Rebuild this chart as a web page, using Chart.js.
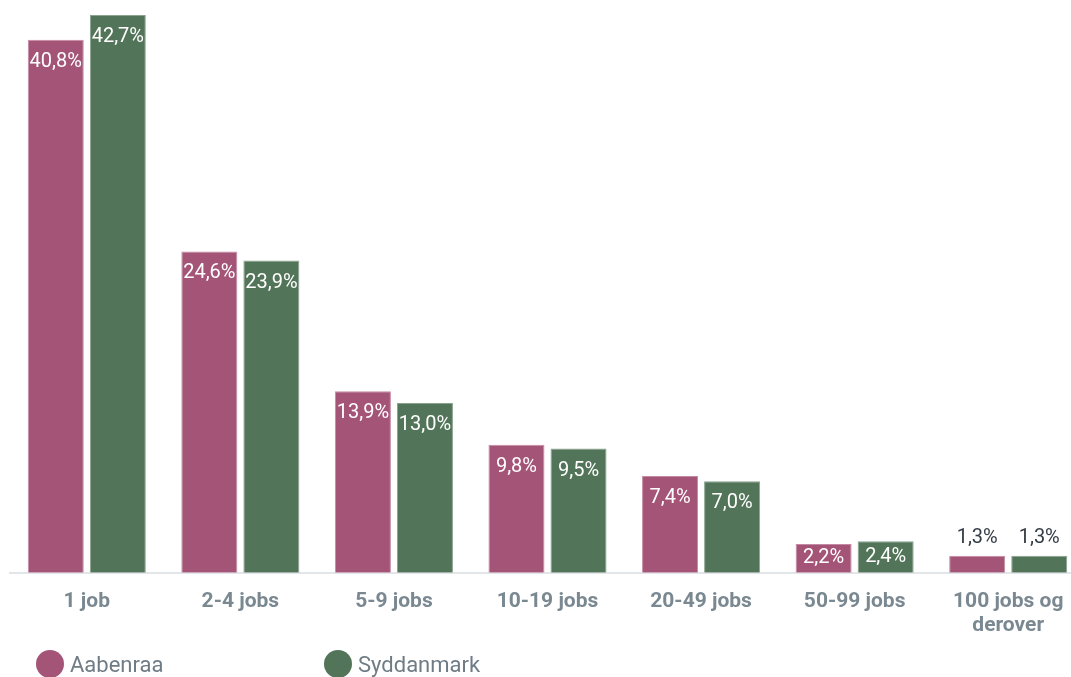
<!DOCTYPE html>
<html>
<head>
<meta charset="utf-8">
<script src="https://cdn.jsdelivr.net/npm/chart.js@4"></script>
<style>
    html, body { margin: 0; padding: 0; background: #fff; overflow: hidden; }
    #wrap { position: relative; width: 1086px; height: 655px; }
    #legend { position: absolute; left: 36px; top: 652px; font-family: Roboto, sans-serif; font-size: 22px; color: #6f7c85; }
    .item { display: inline-block; width: 288px; white-space: nowrap; }
    .dot { display: inline-block; width: 28px; height: 28px; border-radius: 50%; vertical-align: middle; margin-right: 6px; position: relative; top: -2px; }
</style>
</head>
<body>
<div id="wrap"><canvas id="chart"></canvas></div>
<div id="legend"></div>
<script>
// Jobs per person: Aabenraa vs Syddanmark
const categories = ['1 job', '2-4 jobs', '5-9 jobs', '10-19 jobs', '20-49 jobs', '50-99 jobs', ['100 jobs og', 'derover']];
const aabenraa = [40.8, 24.6, 13.9, 9.8, 7.4, 2.2, 1.3];
const syddanmark = [42.7, 23.9, 13.0, 9.5, 7.0, 2.4, 1.3];
const seriesNames = ['Aabenraa', 'Syddanmark'];
const seriesColors = ['#a45477', '#527458'];
const borderColors = ['#c58aa3', '#8aa28e'];

const fmt = v => v.toFixed(1).replace('.', ',') + '%';

// value labels: inside the bar top, or above it when the bar is too short
const valueLabels = {
    id: 'valueLabels',
    afterDatasetsDraw(chart) {
        const ctx = chart.ctx;
        ctx.save();
        ctx.font = '20px Roboto';
        ctx.textAlign = 'center';
        ctx.textBaseline = 'middle';
        chart.data.datasets.forEach((ds, i) => {
            chart.getDatasetMeta(i).data.forEach((bar, j) => {
                const h = bar.base - bar.y;
                if (h > 24) {
                    ctx.fillStyle = '#ffffff';
                    ctx.fillText(fmt(ds.data[j]), bar.x, bar.y + Math.min(22, h / 2));
                } else {
                    ctx.fillStyle = '#333c45';
                    ctx.fillText(fmt(ds.data[j]), bar.x, bar.y - 18);
                }
            });
        });
        ctx.restore();
    }
};

new Chart(document.getElementById('chart'), {
    type: 'bar',
    data: {
        labels: categories,
        datasets: [aabenraa, syddanmark].map((d, i) => ({
            label: seriesNames[i],
            data: d,
            backgroundColor: seriesColors[i],
            borderColor: borderColors[i],
            borderWidth: 1,
            categoryPercentage: 0.808,
            barPercentage: 0.903
        }))
    },
    options: {
        responsive: true,
        maintainAspectRatio: false,
        animation: false,
        layout: { padding: { left: 10, right: 1, top: 15, bottom: 0 } },
        plugins: {
            legend: { display: false },
            tooltip: { enabled: false }
        },
        scales: {
            x: {
                grid: { display: false, drawTicks: false },
                border: { display: true, color: '#e3e6e8', width: 2 },
                ticks: {
                    padding: 17,
                    color: '#7a8891',
                    font: { family: 'Roboto', size: 21, weight: 'bold', lineHeight: 1.15 },
                    maxRotation: 0,
                    autoSkip: false
                }
            },
            y: {
                display: false,
                min: 0,
                max: 42.7
            }
        }
    },
    plugins: [valueLabels]
});

document.getElementById('legend').innerHTML = seriesNames.map((n, i) =>
    `<span class="item"><span class="dot" style="background:${seriesColors[i]}"></span>${n}</span>`
).join('');
</script>
</body>
</html>
